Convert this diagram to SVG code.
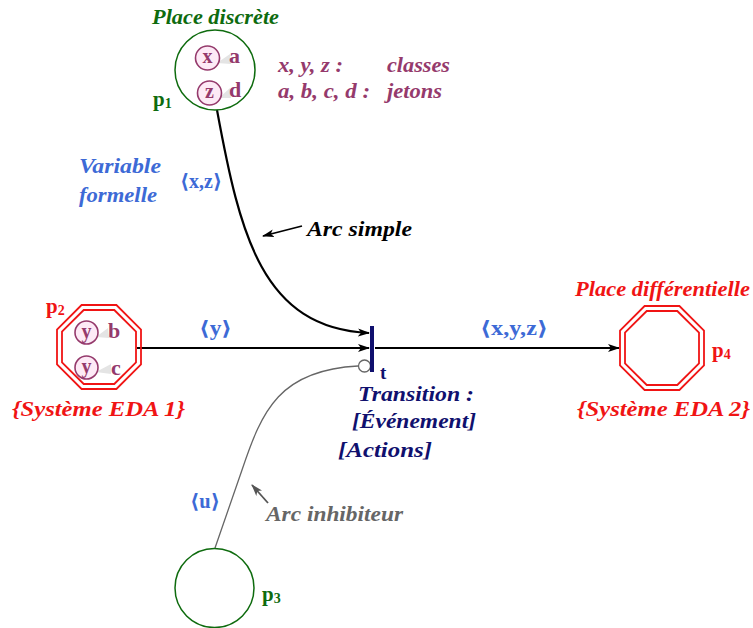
<svg xmlns="http://www.w3.org/2000/svg" width="753" height="628" viewBox="0 0 753 628">
<style>
text{font-family:"Liberation Serif","DejaVu Serif",serif;font-weight:bold}
.it{font-style:italic}
.g{fill:#0e6b0e}
.r{fill:#f01414}
.b{fill:#3d6ad6}
.n{fill:#10106e}
.pu{fill:#953a6c}
.tok{fill:#fdeaf6;stroke:#953a6c;stroke-width:1.6}
.tk{fill:#953a6c;font-size:20px;font-family:"Liberation Serif",serif;font-weight:bold;text-anchor:middle}
.sh{fill:#e4e4e4}
.oct{fill:none;stroke:#f01414;stroke-width:1.8}
.place{fill:none;stroke:#0e6b0e;stroke-width:1.5}
</style>
<defs>
<marker id="ah" viewBox="0 0 12 8" refX="11" refY="4" markerWidth="12" markerHeight="8" markerUnits="userSpaceOnUse" orient="auto"><path d="M0,0 L12,4 L0,8 L3,4 Z" fill="#000"/></marker>
<marker id="ahg" viewBox="0 0 12 8" refX="11" refY="4" markerWidth="12" markerHeight="8" markerUnits="userSpaceOnUse" orient="auto"><path d="M0,0 L12,4 L0,8 L3,4 Z" fill="#555"/></marker>
</defs>

<g id="connectors">
<path d="M217,110 C240,235 262,328 369,333" fill="none" stroke="#000" stroke-width="2.2" marker-end="url(#ah)"/>
<line x1="137" y1="348" x2="369" y2="348" stroke="#000" stroke-width="1.8" marker-end="url(#ah)"/>
<line x1="375" y1="348" x2="619" y2="348" stroke="#000" stroke-width="1.8" marker-end="url(#ah)"/>
<path d="M215,548 L242,470 C262,410 280,370 358,366" fill="none" stroke="#666" stroke-width="1.3"/>
<circle cx="364.5" cy="366" r="6" fill="#fff" stroke="#666" stroke-width="1.3"/>
<line x1="302" y1="226" x2="263" y2="236" stroke="#000" stroke-width="1.8" marker-end="url(#ah)"/>
<line x1="268" y1="503" x2="252" y2="485" stroke="#555" stroke-width="1.8" marker-end="url(#ahg)"/>
</g>

<g id="p1">
<circle class="place" cx="215" cy="70" r="40"/>
<path class="sh" d="M217,63 L230,54 L231,64 Z"/>
<circle class="tok" cx="207.5" cy="58" r="12"/>
<text class="tk" x="207.5" y="63">x</text>
<text class="pu" x="229" y="63" font-size="22">a</text>
<path class="sh" d="M219,98 L230,88 L231,98 Z"/>
<circle class="tok" cx="209.5" cy="93" r="12"/>
<text class="tk" x="209.5" y="98">z</text>
<text class="pu" x="229" y="97" font-size="22">d</text>
<text class="g it" x="152" y="24" font-size="21" textLength="127" lengthAdjust="spacingAndGlyphs">Place discrète</text>
<text class="g" x="153" y="106" font-size="21">p<tspan font-size="14" dy="2">1</tspan></text>
</g>

<g id="legend">
<text class="pu it" x="278" y="72" font-size="20" textLength="65" lengthAdjust="spacingAndGlyphs">x, y, z :</text>
<text class="pu it" x="387" y="72" font-size="20" textLength="63" lengthAdjust="spacingAndGlyphs">classes</text>
<text class="pu it" x="278" y="98" font-size="20" textLength="92" lengthAdjust="spacingAndGlyphs">a, b, c, d :</text>
<text class="pu it" x="387" y="98" font-size="20" textLength="55" lengthAdjust="spacingAndGlyphs">jetons</text>
</g>

<g id="p2">
<polygon class="oct" points="81.6,305 116.4,305 141,329.6 141,364.4 116.4,389 81.6,389 57,364.4 57,329.6"/>
<polygon class="oct" points="83.7,310 114.3,310 136,331.7 136,362.3 114.3,384 83.7,384 62,362.3 62,331.7"/>
<path class="sh" d="M96,337 L108,328 L109,338 Z"/>
<circle class="tok" cx="86.5" cy="332.5" r="11.5"/>
<text class="tk" x="86.5" y="338">y</text>
<text class="pu" x="108" y="338" font-size="22">b</text>
<path class="sh" d="M96,372 L111,364 L111,374 Z"/>
<circle class="tok" cx="86.5" cy="367.5" r="11.5"/>
<text class="tk" x="86.5" y="373">y</text>
<text class="pu" x="111" y="375" font-size="22">c</text>
<text class="r" x="46" y="313" font-size="21">p<tspan font-size="14" dy="2">2</tspan></text>
<text class="r it" x="12" y="416" font-size="21" textLength="173" lengthAdjust="spacingAndGlyphs">{Système EDA 1}</text>
</g>

<g id="t">
<rect x="370" y="326" width="4" height="46" fill="#10106e"/>
<text class="n" x="380" y="379" font-size="19">t</text>
<text class="n it" x="358" y="401" font-size="21" textLength="116" lengthAdjust="spacingAndGlyphs">Transition :</text>
<text class="n it" x="352" y="428" font-size="21" textLength="124" lengthAdjust="spacingAndGlyphs">[Événement]</text>
<text class="n it" x="338" y="457" font-size="21" textLength="94" lengthAdjust="spacingAndGlyphs">[Actions]</text>
</g>

<g id="p4">
<polygon class="oct" points="644.6,306 679.4,306 704,330.6 704,365.4 679.4,390 644.6,390 620,365.4 620,330.6"/>
<polygon class="oct" points="646.7,311 677.3,311 699,332.7 699,363.3 677.3,385 646.7,385 625,363.3 625,332.7"/>
<text class="r it" x="575" y="296" font-size="21" textLength="175" lengthAdjust="spacingAndGlyphs">Place différentielle</text>
<text class="r" x="712" y="357" font-size="21">p<tspan font-size="14" dy="2">4</tspan></text>
<text class="r it" x="577" y="416" font-size="21" textLength="173" lengthAdjust="spacingAndGlyphs">{Système EDA 2}</text>
</g>

<g id="p3">
<circle class="place" cx="214.5" cy="588" r="39.5"/>
<text class="g" x="262" y="601" font-size="21">p<tspan font-size="14" dy="2">3</tspan></text>
</g>

<g id="labels">
<text class="b" x="199" y="335" font-size="20" textLength="33" lengthAdjust="spacingAndGlyphs">⟨y⟩</text>
<text class="b" x="480" y="335" font-size="20" textLength="68" lengthAdjust="spacingAndGlyphs">⟨x,y,z⟩</text>
<text class="b" x="180" y="188" font-size="20" textLength="42" lengthAdjust="spacingAndGlyphs">⟨x,z⟩</text>
<text class="b" x="190" y="508" font-size="20" textLength="30" lengthAdjust="spacingAndGlyphs">⟨u⟩</text>
<text class="b it" x="79" y="173" font-size="21" textLength="82" lengthAdjust="spacingAndGlyphs">Variable</text>
<text class="b it" x="79" y="202" font-size="21" textLength="78" lengthAdjust="spacingAndGlyphs">formelle</text>
<text class="it" x="307" y="236" font-size="21" textLength="105" lengthAdjust="spacingAndGlyphs" fill="#000">Arc simple</text>
<text class="it" x="266" y="521" font-size="21" textLength="137" lengthAdjust="spacingAndGlyphs" fill="#666">Arc inhibiteur</text>
</g>
</svg>
